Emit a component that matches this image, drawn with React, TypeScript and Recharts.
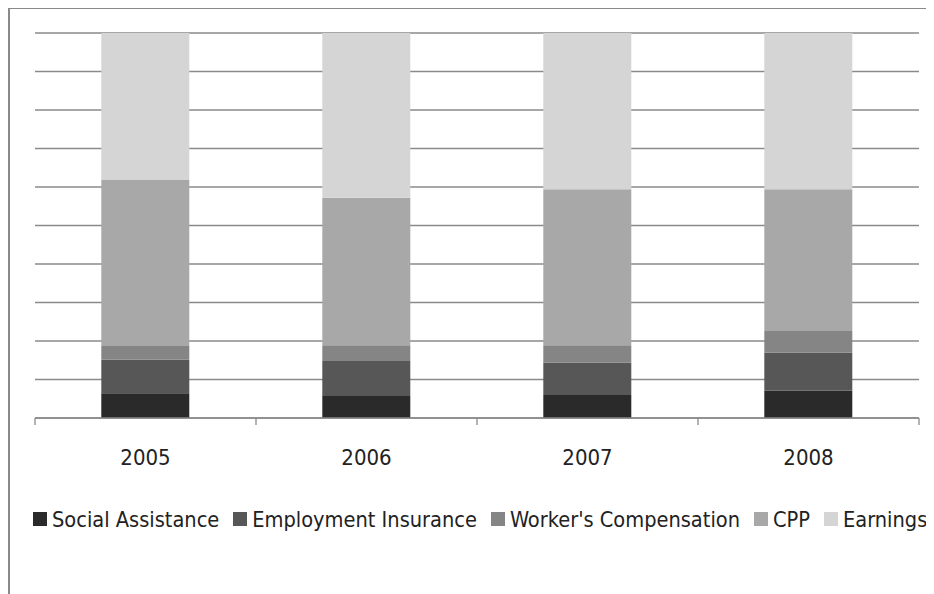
import { BarChart, Bar, XAxis, YAxis, CartesianGrid, Legend } from "recharts";

const years = ["2005", "2006", "2007", "2008"];
const socialAssistance = [6.4, 5.7, 6.0, 7.1];
const employmentInsurance = [8.7, 9.1, 8.4, 9.9];
const workersCompensation = [3.6, 4.1, 4.5, 5.6];
const cpp = [43.1, 38.3, 40.5, 36.8];
const earnings = [38.2, 42.8, 40.6, 40.6];
const gridTicks = [0, 0.1, 0.2, 0.3, 0.4, 0.5, 0.6, 0.7, 0.8, 0.9, 1];

const series = [
  { key: "sa", name: "Social Assistance", color: "#2a2a2a" },
  { key: "ei", name: "Employment Insurance", color: "#575757" },
  { key: "wc", name: "Worker's Compensation", color: "#858585" },
  { key: "cpp", name: "CPP", color: "#a8a8a8" },
  { key: "earn", name: "Earnings", color: "#d5d5d5" },
];

const data = years.map((year, i) => ({
  year,
  sa: socialAssistance[i],
  ei: employmentInsurance[i],
  wc: workersCompensation[i],
  cpp: cpp[i],
  earn: earnings[i],
}));

const WIDTH = 926;
const HEIGHT = 586;
const MARGIN = { top: 25, right: 15, left: 27, bottom: 60 };
const BAND = (WIDTH - MARGIN.left - MARGIN.right) / years.length;
const AXIS_COLOR = "#8a8a8a";

const FONT = "'Liberation Sans Narrow', 'Arial Narrow', 'DejaVu Sans Condensed', sans-serif";

// tick marks sit on the category boundaries, like Excel does
const EdgeTick = (props: any) => {
  const { x, y, index, visibleTicksCount } = props;
  const left = x - BAND / 2;
  const right = x + BAND / 2;
  return (
    <g>
      <line x1={left} x2={left} y1={y} y2={y + 7} stroke={AXIS_COLOR} strokeWidth={1.3} />
      {index === visibleTicksCount - 1 && (
        <line x1={right} x2={right} y1={y} y2={y + 7} stroke={AXIS_COLOR} strokeWidth={1.3} />
      )}
    </g>
  );
};

const LegendRow = () => (
  <div
    style={{
      display: "flex",
      alignItems: "center",
      height: 30,
      fontFamily: FONT,
      fontSize: 21.6,
      color: "#222",
      whiteSpace: "nowrap",
      marginLeft: -2,
    }}
  >
    {series.map((s) => (
      <span key={s.key} style={{ display: "inline-flex", alignItems: "center", marginRight: 14 }}>
        <span style={{ width: 14, height: 14, background: s.color, marginRight: 5, display: "inline-block" }} />
        {s.name}
      </span>
    ))}
  </div>
);

const App = () => {
  return (
    <div style={{ position: "relative", width: WIDTH, height: HEIGHT, background: "#fff", overflow: "hidden" }}>
      <div
        style={{
          position: "absolute",
          left: 0,
          top: -1,
          width: 940,
          height: 600,
          borderLeft: "2px solid #8a8a8a",
          borderTop: "2px solid #8a8a8a",
          boxSizing: "border-box",
        }}
      />
      <BarChart
        width={WIDTH}
        height={HEIGHT}
        data={data}
        stackOffset="expand"
        barCategoryGap="30%"
        margin={MARGIN}
      >
        <CartesianGrid vertical={false} stroke={AXIS_COLOR} strokeWidth={1.3} />
        <YAxis hide domain={[0, 1]} ticks={gridTicks} />
        <XAxis
          xAxisId="a"
          dataKey="year"
          height={1}
          tickLine={false}
          tickSize={0}
          tickMargin={0}
          interval={0}
          tick={<EdgeTick />}
          stroke={AXIS_COLOR}
          strokeWidth={1.3}
        />
        <XAxis
          xAxisId="b"
          dataKey="year"
          height={85}
          axisLine={false}
          tickLine={false}
          tickMargin={24}
          tick={{ fontFamily: FONT, fontSize: 22, fill: "#222" }}
        />
        <Legend verticalAlign="bottom" content={() => <LegendRow />} />
        {series.map((s) => (
          <Bar
            key={s.key}
            xAxisId="b"
            dataKey={s.key}
            name={s.name}
            stackId="a"
            fill={s.color}
            isAnimationActive={false}
          />
        ))}
      </BarChart>
    </div>
  );
};

export default App;
